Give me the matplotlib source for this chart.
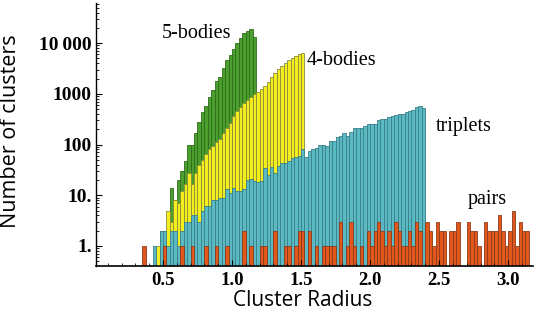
import numpy as np
import matplotlib
matplotlib.use("Agg")
import matplotlib.pyplot as plt
from matplotlib.ticker import FixedLocator, MultipleLocator, LogLocator, NullFormatter

BIN = 0.025

# 5-bodies (green), first bin left edge 0.475
five_start = 0.475
five_bodies = [2, 0, 0, 14, 8, 20, 30, 48, 100, 100, 170, 280, 440, 580, 870, 1200,
               1800, 2200, 3200, 4700, 5900, 7600, 10000, 12600, 16000, 17500, 19000, 13000]

# 4-bodies (yellow), first bin 0.45
four_start = 0.45
four_bodies = [1, 1, 2, 5, 3, 8, 7, 12, 17, 27,
               17, 27, 40, 50, 65, 80, 95, 110, 130, 170,
               210, 270, 370, 450, 550, 650, 760, 870, 980, 1100,
               1250, 1450, 1700, 2200, 2600, 3100, 3500, 4100, 4700, 5100,
               5600, 6100, 6300]

# triplets (teal), first bin 0.40
trip_start = 0.40
triplets = [0, 1, 0, 2, 2, 1, 2, 2, 1, 2,
            3, 3, 4, 4, 3, 5, 6, 6, 8, 8,
            9, 9, 13, 11, 14, 12, 12, 13, 20, 21,
            19, 18, 19, 34, 25, 36, 27, 37, 43, 44,
            48, 55, 56, 60, 80, 58, 75, 80, 85, 98,
            100, 95, 120, 120, 140, 145, 170, 150, 180, 210,
            210, 215, 230, 250, 255, 260, 300, 320, 320, 350,
            370, 380, 410, 400, 430, 460, 480, 560, 580, 520]

# pairs (orange), first bin 0.35
pair_start = 0.35
pairs = [1, 0, 0, 0, 0, 0, 1, 0, 0, 0,
         0, 1, 0, 0, 1, 0, 0, 0, 1, 0,
         0, 1, 0, 0, 1, 0, 0, 0, 0, 2,
         0, 1, 0, 0, 1, 1, 0, 0, 2, 0,
         0, 1, 1, 0, 1, 2, 2, 0, 2, 0,
         1, 0, 1, 1, 1, 1, 0, 3, 0, 1,
         3, 1, 0, 1, 0, 2, 1, 2, 3, 2,
         1, 2, 1, 3, 2, 1, 1, 2, 1, 3,
         2, 0, 3, 2, 1, 3, 2, 2, 0, 2,
         2, 3, 0, 0, 3, 2, 2, 1, 0, 3,
         2, 2, 2, 4, 2, 1, 2, 5, 1, 3,
         2, 2]

series = [
    (five_start, five_bodies, "#4ba02d", "#2f6a1c"),
    (four_start, four_bodies, "#f5ee1e", "#8a8a3a"),
    (trip_start, triplets, "#5ab9c3", "#3a7f88"),
    (pair_start, pairs, "#e2571c", "#8a3a1a"),
]

y_ticks = [1, 10, 100, 1000, 10000]
y_ticklabels = ["1.", "10.", "100", "1000", "10\u2009000"]
x_ticks = [0.5, 1.0, 1.5, 2.0, 2.5, 3.0]
x_ticklabels = ["0.5", "1.0", "1.5", "2.0", "2.5", "3.0"]

fig = plt.figure(figsize=(5.36, 3.19), dpi=100)
ax = fig.add_axes([96/536, 1-266/319, (533-96)/536, (266-3)/319])
ax.set_yscale("log")

for start, vals, fc, ec in series:
    vals = np.asarray(vals, dtype=float)
    xs = start + BIN*np.arange(len(vals))
    m = vals > 0
    ax.bar(xs[m], vals[m], width=BIN, align="edge", bottom=0.01,
           color=fc, edgecolor=ec, linewidth=0.6)

ax.set_xlim(0.015, 3.18)
ax.set_ylim(0.403, 62000)

for s in ["top", "right"]:
    ax.spines[s].set_visible(False)
ax.spines["left"].set_linewidth(1.0)
ax.spines["bottom"].set_linewidth(1.2)

serif = dict(family="Liberation Serif", weight="bold", size=14)
ax.yaxis.set_major_locator(FixedLocator(y_ticks))
ax.set_yticklabels(y_ticklabels, fontdict=serif)
ax.yaxis.set_minor_locator(LogLocator(base=10, subs=np.arange(2, 10), numticks=20))
ax.yaxis.set_minor_formatter(NullFormatter())
ax.xaxis.set_major_locator(FixedLocator(x_ticks))
ax.set_xticklabels(x_ticklabels, fontdict=dict(serif, size=13.5))
ax.xaxis.set_minor_locator(MultipleLocator(0.1))
ax.tick_params(which="major", direction="in", length=4, width=0.8, pad=3)
ax.tick_params(which="minor", direction="in", length=2, width=0.6)
ax.tick_params(axis="x", pad=4)

lab = dict(family="Liberation Serif", size=14.5, va="center", ha="center")
ax.text(0.746, 15800, "5-bodies", **lab)
ax.text(1.79, 4650, "4-bodies", **lab)
ax.text(2.68, 223, "triplets", **lab)
ax.text(2.85, 8.1, "pairs", **lab)

fig.text(11/536, 1-131/319, "Number of clusters", rotation=90, ha="center", va="center",
         family="Open Sans", size=15.5)
fig.text(303/536, 1-300/319, "Cluster Radius", ha="center", va="center",
         family="Open Sans", size=15)

fig.savefig("out.png", dpi=100)
